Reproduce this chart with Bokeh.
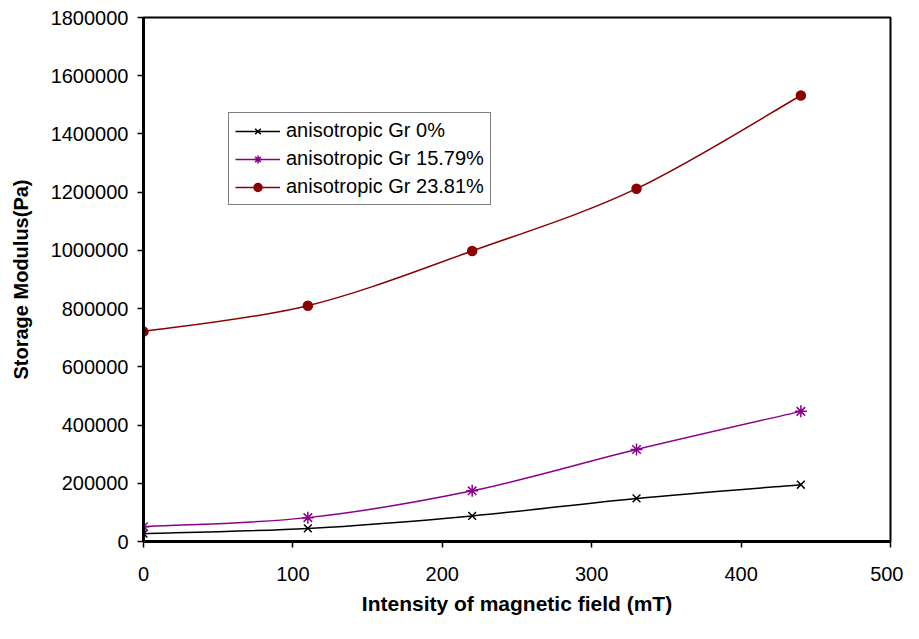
from bokeh.plotting import figure
from bokeh.embed import file_html
from bokeh.resources import INLINE
from bokeh.models import Range1d, Legend, LegendItem, FixedTicker, ColumnDataSource

# Data
field_mT = [0, 110, 220, 330, 440]
gr_0 = [27000, 45000, 88000, 148000, 195000]
gr_1579 = [51000, 82000, 174000, 316000, 447000]
gr_2381 = [721000, 810000, 998000, 1212000, 1532000]
series_names = ["anisotropic Gr 0%", "anisotropic Gr 15.79%", "anisotropic Gr 23.81%"]
x_ticks = [0, 100, 200, 300, 400, 500]
y_ticks = [0, 200000, 400000, 600000, 800000, 1000000, 1200000, 1400000, 1600000, 1800000]

FONT = "Liberation Sans"

p = figure(width=903, height=623, output_backend="svg", toolbar_location=None,
           x_range=Range1d(0, 500), y_range=Range1d(0, 1800000),
           min_border_left=143, min_border_right=13, min_border_top=17, min_border_bottom=82)
p.xgrid.visible = False
p.ygrid.visible = False
p.outline_line_color = "black"
p.outline_line_width = 2
p.background_fill_color = "white"
p.border_fill_color = "white"

for ax in (p.xaxis[0], p.yaxis[0]):
    ax.axis_line_width = 3
    ax.axis_line_color = "black"
    ax.major_tick_line_width = 1.5
    ax.major_tick_in = 0
    ax.major_tick_out = 6
    ax.minor_tick_line_color = None
    ax.major_label_text_font = FONT
    ax.major_label_text_font_size = "20px"
    ax.major_label_text_color = "black"
    ax.axis_label_text_font = FONT
    ax.axis_label_text_font_style = "bold"
    ax.axis_label_text_color = "black"

p.xaxis.ticker = FixedTicker(ticks=x_ticks)
p.yaxis.ticker = FixedTicker(ticks=y_ticks)
p.yaxis.formatter.use_scientific = False
p.xaxis.major_label_standoff = 19
p.yaxis.major_label_standoff = 9
p.xaxis.axis_label = "Intensity of magnetic field (mT)"
p.yaxis.axis_label = "Storage Modulus(Pa)"
p.xaxis.axis_label_text_font_size = "21px"
p.yaxis.axis_label_text_font_size = "20px"
p.xaxis.axis_label_standoff = 8
p.yaxis.axis_label_standoff = 16


def bezier_source(xs, ys):
    n = len(xs)
    x0, y0, x1, y1, cx0, cy0, cx1, cy1 = [], [], [], [], [], [], [], []
    for i in range(n - 1):
        im1 = max(i - 1, 0)
        ip2 = min(i + 2, n - 1)
        x0.append(xs[i]); y0.append(ys[i])
        x1.append(xs[i + 1]); y1.append(ys[i + 1])
        cx0.append(xs[i] + (xs[i + 1] - xs[im1]) / 6)
        cy0.append(ys[i] + (ys[i + 1] - ys[im1]) / 6)
        cx1.append(xs[i + 1] - (xs[ip2] - xs[i]) / 6)
        cy1.append(ys[i + 1] - (ys[ip2] - ys[i]) / 6)
    return ColumnDataSource(dict(x0=x0, y0=y0, x1=x1, y1=y1, cx0=cx0, cy0=cy0, cx1=cx1, cy1=cy1))


styles = [
    (gr_0, "black", "x", 11),
    (gr_1579, "#8B008B", "asterisk", 12),
    (gr_2381, "#8B0000", "circle", 9),
]

items = []
for (ys, color, marker, size), name in zip(styles, series_names):
    src = bezier_source(field_mT, ys)
    lr = p.bezier(x0="x0", y0="y0", x1="x1", y1="y1", cx0="cx0", cy0="cy0", cx1="cx1", cy1="cy1",
                  source=src, line_color=color, line_width=1.5)
    sr = p.scatter(field_mT, ys, marker=marker, size=size, line_color=color,
                   fill_color=color, line_width=1.5)
    items.append(LegendItem(label=name, renderers=[lr, sr]))

legend = Legend(items=items, location=(85, 336))
legend.label_text_font = FONT
legend.label_text_font_size = "20px"
legend.label_text_color = "black"
legend.border_line_color = "black"
legend.border_line_width = 1
legend.glyph_width = 45
legend.glyph_height = 20
legend.label_standoff = 6
legend.spacing = 5
legend.padding = 6
legend.margin = 0
legend.background_fill_alpha = 1
p.add_layout(legend, "center")

open("out.html", "w").write(file_html(p, INLINE))
